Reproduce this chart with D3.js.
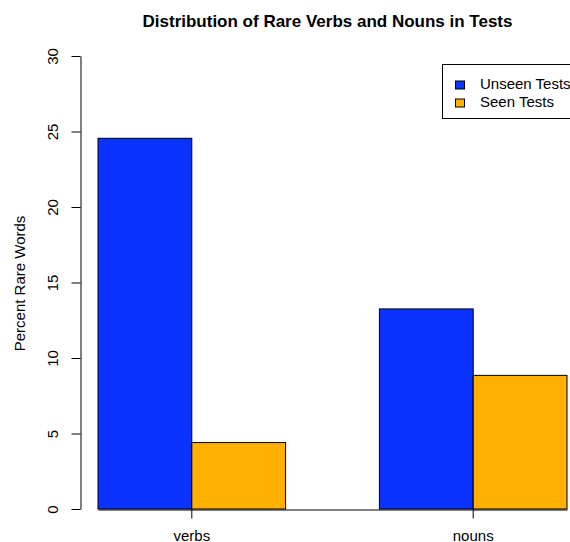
<!DOCTYPE html>
<html>
<head>
<meta charset="utf-8">
<script src="https://cdn.jsdelivr.net/npm/d3@7"></script>
<style>
  body { margin: 0; background: #fff; }
  svg { display: block; font-family: "Liberation Sans", Arial, Helvetica, sans-serif; }
</style>
</head>
<body>
<svg></svg>
<script>
// data
var categories = ["verbs", "nouns"];
var seriesNames = ["Unseen Tests", "Seen Tests"];
var unseenValues = [24.55, 13.25];
var seenValues = [4.4, 8.85];
var yTicks = [0, 5, 10, 15, 20, 25, 30];
var seriesColors = ["#0B33FF", "#FFB000"];

var width = 570, height = 542;

var svg = d3.select("svg")
    .attr("width", width)
    .attr("height", height);

// group band scale: gap between groups is one bar wide
var x0 = d3.scaleBand()
    .domain(categories)
    .range([98, 567])
    .paddingInner(1 / 3)
    .paddingOuter(0);

// bar position inside a group
var x1 = d3.scaleBand()
    .domain(seriesNames)
    .range([0, x0.bandwidth()])
    .padding(0);

var y = d3.scaleLinear()
    .domain([0, 30])
    .range([509, 56]);

var color = d3.scaleOrdinal()
    .domain(seriesNames)
    .range(seriesColors);

// rows: one object per category with both series
var rows = categories.map(function(c, i) {
  return { cat: c, values: [
    { key: seriesNames[0], value: unseenValues[i] },
    { key: seriesNames[1], value: seenValues[i] }
  ]};
});

// bars
var groups = svg.append("g")
  .selectAll("g")
  .data(rows)
  .enter().append("g")
    .attr("transform", function(d) { return "translate(" + x0(d.cat) + ",0)"; });

groups.selectAll("rect")
    .data(function(d) { return d.values; })
  .enter().append("rect")
    .attr("x", function(d) { return x1(d.key); })
    .attr("y", function(d) { return y(d.value); })
    .attr("width", x1.bandwidth())
    .attr("height", function(d) { return y(0) - y(d.value); })
    .attr("fill", function(d) { return color(d.key); })
    .attr("stroke", "#000")
    .attr("stroke-width", 1);

// y axis
var yAxis = d3.axisLeft(y)
    .tickValues(yTicks)
    .tickSize(9)
    .tickSizeOuter(0)
    .tickPadding(0);

var gy = svg.append("g")
    .attr("transform", "translate(80.5,0)")
    .call(yAxis);
gy.select(".domain").attr("stroke", "#000");
gy.selectAll(".tick line").attr("stroke", "#000");
gy.selectAll(".tick text")
    .attr("font-size", 15)
    .attr("fill", "#000")
    .attr("text-anchor", "middle")
    .attr("x", null)
    .attr("dy", null)
    .attr("transform", "translate(-22.5,0) rotate(-90)");

// x axis
var xAxis = d3.axisBottom(x0)
    .tickSize(9)
    .tickSizeOuter(0)
    .tickPadding(0);

var gx = svg.append("g")
    .attr("transform", "translate(0," + (y(0) + 0.5) + ")")
    .call(xAxis);
gx.select(".domain").attr("stroke", "#000");
gx.selectAll(".tick line").attr("stroke", "#000");
gx.selectAll(".tick text")
    .attr("font-size", 15)
    .attr("fill", "#000")
    .attr("y", 31.5)
    .attr("dy", null);

// y label
svg.append("text")
    .attr("transform", "translate(25," + ((y(0) + y(30)) / 2 + 1) + ") rotate(-90)")
    .attr("text-anchor", "middle")
    .attr("font-size", 15)
    .text("Percent Rare Words");

// title
svg.append("text")
    .attr("x", 327.5)
    .attr("y", 27)
    .attr("text-anchor", "middle")
    .attr("font-size", 17)
    .attr("font-weight", "bold")
    .text("Distribution of Rare Verbs and Nouns in Tests");

// legend
var legend = svg.append("g")
    .attr("transform", "translate(442.5,64.5)");

legend.append("rect")
    .attr("width", 160)
    .attr("height", 54)
    .attr("fill", "#fff")
    .attr("stroke", "#000");

var items = legend.selectAll("g.item")
    .data(seriesNames)
  .enter().append("g")
    .attr("class", "item")
    .attr("transform", function(d, i) { return "translate(0," + (i * 18) + ")"; });

items.append("rect")
    .attr("x", 13)
    .attr("y", 16.5)
    .attr("width", 9)
    .attr("height", 8)
    .attr("fill", function(d) { return color(d); })
    .attr("stroke", "#000");

items.append("text")
    .attr("x", 37.5)
    .attr("y", 24)
    .attr("font-size", 15)
    .text(function(d) { return d; });
</script>
</body>
</html>
